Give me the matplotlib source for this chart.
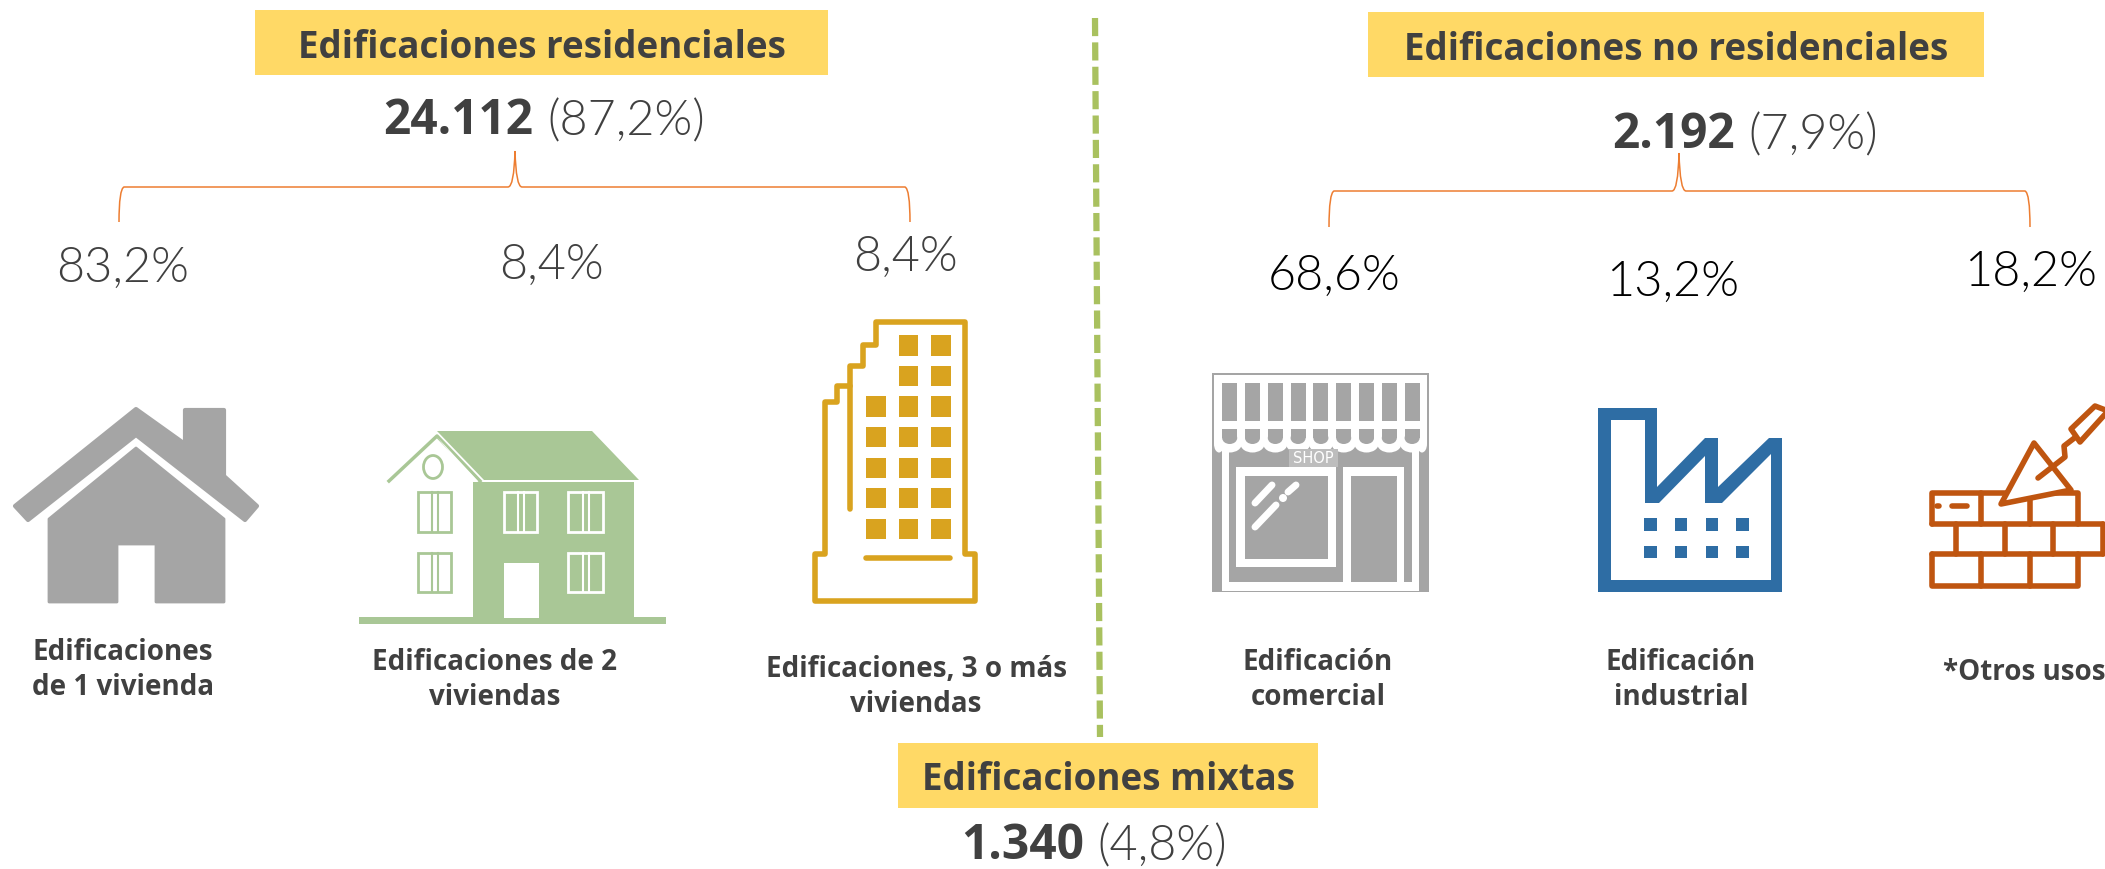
import matplotlib
matplotlib.use('Agg')
import matplotlib.pyplot as plt
from matplotlib.patches import Polygon, Rectangle, Ellipse, PathPatch
from matplotlib.path import Path

# values
group_titles = ['Edificaciones residenciales', 'Edificaciones no residenciales', 'Edificaciones mixtas']
group_totals = ['24.112', '2.192', '1.340']
group_shares = ['(87,2%)', '(7,9%)', '(4,8%)']
res_shares = ['83,2%', '8,4%', '8,4%']
nores_shares = ['68,6%', '13,2%', '18,2%']
res_labels = ['Edificaciones\nde 1 vivienda', 'Edificaciones de 2\nviviendas', 'Edificaciones, 3 o más\nviviendas']
nores_labels = ['Edificación\ncomercial', 'Edificación\nindustrial', '*Otros usos']

DARK = '#404040'
YELLOW = '#FFD966'
ORANGE = '#ED7D31'
GRAY = '#A5A5A5'
GREEN = '#A9C796'
GOLD = '#D9A31F'
BLUE = '#2E6DA4'
BRICK = '#BF5510'
BOLD = 'Open Sans'
LIGHT = 'Lato'
LIGHT_W = 300

fig = plt.figure(figsize=(21.05, 8.7), dpi=100)
ax = fig.add_axes([0, 0, 1, 1])
ax.set_xlim(0, 2105)
ax.set_ylim(870, 0)
ax.axis('off')


def title_box(x0, x1, y0, y1, txt):
    ax.add_patch(Rectangle((x0, y0), x1 - x0, y1 - y0, fc=YELLOW, ec='none'))
    ax.text((x0 + x1) / 2, (y0 + y1) / 2 + 4, txt, ha='center', va='center', color=DARK,
            family=BOLD, weight='bold', fontsize=26.5)


def total_text(cx, cy, total, share):
    # bold number and light share on one line
    r = fig.canvas.get_renderer()
    a = ax.text(0, cy, total, ha='left', va='center', color=DARK, family=BOLD, weight='bold', fontsize=34.5)
    b = ax.text(0, cy, share, ha='left', va='center', color=DARK, family=LIGHT, weight=LIGHT_W, fontsize=35)
    wa = a.get_window_extent(r).width
    wb = b.get_window_extent(r).width
    left = cx - (wa + wb + 14) / 2
    a.set_x(left)
    b.set_x(left + wa + 14)


def brace(x0, x1, xm, ytop, ymid, ybot):
    verts = [(x0, ybot), (x0, ymid + 2), (x0 + 5, ymid), (xm - 7, ymid), (xm - 1, ymid), (xm, ytop),
             (xm + 1, ymid), (xm + 7, ymid), (x1 - 5, ymid), (x1, ymid + 2), (x1, ybot)]
    codes = [Path.MOVETO, Path.CURVE3, Path.CURVE3, Path.LINETO, Path.CURVE3, Path.CURVE3,
             Path.CURVE3, Path.CURVE3, Path.LINETO, Path.CURVE3, Path.CURVE3]
    ax.add_patch(PathPatch(Path(verts, codes), fc='none', ec=ORANGE, lw=1.1))


def poly(pts, fc, ec='none', lw=0, z=2):
    ax.add_patch(Polygon(pts, closed=True, fc=fc, ec=ec, lw=lw, joinstyle='round', zorder=z))


def rect(x0, y0, x1, y1, fc, ec='none', lw=0, z=2):
    ax.add_patch(Rectangle((x0, y0), x1 - x0, y1 - y0, fc=fc, ec=ec, lw=lw, zorder=z))


def draw_house():
    poly([(136, 410), (185, 445), (185, 411), (224, 411), (224, 477), (257, 507), (245, 521), (136, 436),
          (28, 521), (15, 507)], GRAY, GRAY, 3)
    poly([(136, 449), (224, 520), (224, 603), (156, 603), (156, 545), (117, 545), (117, 603), (49, 603),
          (49, 520)], GRAY, GRAY, 2)


def draw_green_house():
    poly([(437, 432), (592, 432), (639, 481), (484, 481)], GREEN)
    rect(473, 483, 634, 620, GREEN)
    rect(359, 618, 666, 625, GREEN)
    ax.plot([389, 437, 480], [482, 437, 482], color=GREEN, lw=2.5)
    poly([(437, 438), (478, 482), (473, 482)], 'white')
    rect(504, 564, 539, 619, 'white')
    for x0, x1, y0, y1, c in [(504, 537, 493, 533, 'white'), (568, 603, 493, 533, 'white'), (568, 603, 554, 593, 'white'),
                              (418, 451, 493, 533, GREEN), (418, 451, 554, 593, GREEN)]:
        rect(x0, y0, x1, y1, 'none', c, 2)
        ax.plot([(x0 + x1) / 2 - 3] * 2, [y0, y1], color=c, lw=1.5)
        ax.plot([(x0 + x1) / 2 + 3] * 2, [y0, y1], color=c, lw=1.5)
    ax.add_patch(Ellipse((433, 468), 19, 23, fc='none', ec=GREEN, lw=2))


def draw_tower():
    outline = [(815, 602), (815, 555), (825, 555), (825, 403), (837, 403), (837, 387), (850, 387), (850, 367),
               (863, 367), (863, 346), (876, 346), (876, 323), (965, 323), (965, 555), (975, 555), (975, 602)]
    poly(outline, 'none', GOLD, 4)
    ax.plot([850, 850], [387, 510], color=GOLD, lw=4, solid_capstyle='round')
    ax.plot([866, 950], [559, 559], color=GOLD, lw=4, solid_capstyle='round')
    rows = [(336, 357), (367, 387), (397, 418), (428, 448), (459, 479), (489, 509), (520, 540)]
    cols = [(866, 886), (899, 918), (931, 951)]
    for i, (y0, y1) in enumerate(rows):
        for j, (x0, x1) in enumerate(cols):
            if i < 2 and j == 0:
                continue
            rect(x0, y0, x1, y1, GOLD)


def draw_shop():
    rect(1212, 374, 1429, 593, GRAY)
    rect(1214, 376, 1427, 445, 'white')
    for k in range(9):
        cx = 1229.7 + k * 22.8
        ax.add_patch(Ellipse((cx, 445), 24, 17, fc='white', ec='none', zorder=3))
        rect(cx - 7.5, 384, cx + 7.5, 422, GRAY, z=4)
        rect(cx - 7.5, 430, cx + 7.5, 439, GRAY, z=4)
        ax.add_patch(Ellipse((cx, 439), 15, 12, fc=GRAY, ec='none', zorder=4))
    ax.add_patch(Ellipse((1219, 445), 10, 17, fc='white', ec='none', zorder=3))
    ax.add_patch(Ellipse((1422, 445), 10, 17, fc='white', ec='none', zorder=3))
    rect(1222, 450, 1229, 592, 'white')
    rect(1412, 450, 1419, 592, 'white')
    rect(1222, 583, 1419, 592, 'white')
    rect(1236, 468, 1336, 568, 'white')
    rect(1245, 477, 1328, 560, GRAY)
    rect(1343, 468, 1404, 584, 'white')
    rect(1351, 477, 1397, 583, GRAY)
    rect(1289, 450, 1338, 468, '#BDBDBD', z=5)
    ax.text(1313, 459, 'SHOP', ha='center', va='center', color='white', fontsize=10.5, family='DejaVu Sans', zorder=6)
    for xs, ys in [((1255, 1272), (504, 486)), ((1288, 1296), (493, 486)), ((1255, 1276), (528, 506))]:
        ax.plot(xs, ys, color='white', lw=5, solid_capstyle='round')
    ax.add_patch(Ellipse((1283, 499), 8, 8, fc='white', ec='none', zorder=3))


def draw_factory():
    poly([(1598, 409), (1657, 409), (1657, 488), (1705, 439), (1718, 439), (1718, 488), (1769, 439), (1782, 439),
          (1782, 593), (1598, 593)], BLUE)
    poly([(1611, 421), (1645, 421), (1645, 504), (1659, 504), (1705, 457), (1705, 504), (1722, 504), (1771, 455),
          (1771, 581), (1611, 581)], 'white', z=3)
    for x0, x1 in [(1644, 1657), (1675, 1687), (1706, 1718), (1736, 1749)]:
        rect(x0, 519, x1, 532, BLUE, z=4)
        rect(x0, 547, x1, 559, BLUE, z=4)


def draw_bricks():
    lw = 4
    def seg(xs, ys):
        ax.plot(xs, ys, color=BRICK, lw=lw, solid_capstyle='round', zorder=3)
    seg([1932, 1932, 2078, 2078], [525, 494, 494, 525])
    seg([1932, 2103], [525, 525])
    seg([1932, 2103], [555, 555])
    seg([1932, 1932, 2078, 2078], [555, 587, 587, 555])
    seg([2103, 2103], [525, 555])
    for x in (1981, 2030):
        seg([x, x], [494, 525])
        seg([x, x], [555, 587])
    for x in (1956, 2005, 2053):
        seg([x, x], [525, 555])
    seg([1937, 1939], [507, 507])
    seg([1952, 1967], [507, 507])
    # trowel
    poly([(2034, 444), (2071, 491), (2001, 505)], 'white', BRICK, lw, z=4)
    ax.plot([2038, 2065, 2064, 2077], [479, 458, 447, 437], color=BRICK, lw=lw, solid_capstyle='round', zorder=5)
    poly([(2071, 430), (2095, 407), (2108, 412), (2080, 443)], 'white', BRICK, lw, z=5)


# group headers
title_box(255, 828, 11, 76, group_titles[0])
title_box(1368, 1984, 13, 78, group_titles[1])
title_box(898, 1318, 744, 809, group_titles[2])
total_text(544, 122, group_totals[0], group_shares[0])
total_text(1745, 136, group_totals[1], group_shares[1])
# the parentheses of this line run into the bottom edge in the reference too
total_text(1094, 847, group_totals[2], group_shares[2])

brace(119, 910, 515, 152, 188, 223)
brace(1329, 2030, 1679, 154, 192, 228)

# dashed divider
ax.plot([1095, 1100], [19, 738], color='#A9C15F', lw=4.5, dashes=(2.9, 1.0), zorder=1)

# percentages
for (x, y), s in zip([(123, 268), (551, 265), (905, 257)], res_shares):
    ax.text(x, y, s, ha='center', va='center', color=DARK, family=LIGHT, weight=LIGHT_W, fontsize=35)
for (x, y), s in zip([(1334, 276), (1673, 282), (2030, 272)], nores_shares):
    ax.text(x, y, s, ha='center', va='center', color='black', family=LIGHT, weight=LIGHT_W, fontsize=35)

# labels under the icons
for (x, y), s in zip([(123, 670), (495, 680), (916, 687)], res_labels):
    ax.text(x, y, s, ha='center', va='center', color=DARK, family=BOLD, weight='bold', fontsize=20, linespacing=1.25)
for (x, y), s in zip([(1318, 680), (1681, 680), (2024, 673)], nores_labels):
    ax.text(x, y, s, ha='center', va='center', color=DARK, family=BOLD, weight='bold', fontsize=20, linespacing=1.25)

draw_house()
draw_green_house()
draw_tower()
draw_shop()
draw_factory()
draw_bricks()

fig.savefig('out.png', dpi=100)
